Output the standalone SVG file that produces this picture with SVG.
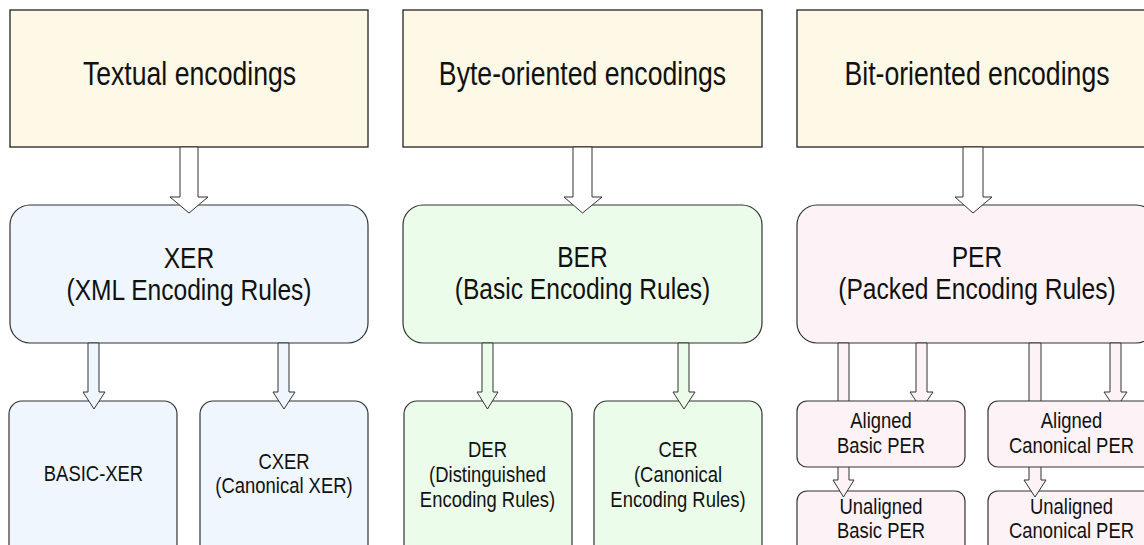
<svg xmlns="http://www.w3.org/2000/svg" width="1144" height="545" viewBox="0 0 1144 545">
<style>
  text { font-family: "Liberation Sans", Arial, sans-serif; fill: #111; text-anchor: middle; }
  .t1 { font-size: 32.5px; }
  .t2 { font-size: 30px; }
  .t3 { font-size: 22.5px; }
  .top { fill: #fef8e7; stroke: #222; stroke-width: 1.3; }
  .xer { fill: #eff6fe; stroke: #333; stroke-width: 1.2; }
  .ber { fill: #ebfcea; stroke: #333; stroke-width: 1.2; }
  .per { fill: #fdf3f6; stroke: #333; stroke-width: 1.2; }
  .arw { stroke: #333; stroke-width: 1; stroke-linejoin: miter; }
  .aw { fill: #ffffff; }
  .ax { fill: #eff6fe; }
  .ab { fill: #ebfcea; }
  .ap { fill: #fdf3f6; }
</style>
<rect width="1144" height="545" fill="#ffffff"/>

<g id="textual">
  <rect class="top" x="10" y="10" width="358" height="137"/>
  <text class="t1" transform="translate(189.5 0) scale(0.82 1)" x="0" y="85">Textual encodings</text>
</g>
<g id="byte">
  <rect class="top" x="403" y="10" width="359" height="137"/>
  <text class="t1" transform="translate(582.5 0) scale(0.82 1)" x="0" y="85">Byte-oriented encodings</text>
</g>
<g id="bit">
  <rect class="top" x="797" y="10" width="359" height="137"/>
  <text class="t1" transform="translate(977 0) scale(0.82 1)" x="0" y="85">Bit-oriented encodings</text>
</g>

<g id="xer">
  <rect class="xer" x="10" y="205" width="358" height="138" rx="20" ry="20"/>
  <text class="t2" transform="translate(189 0) scale(0.82 1)" x="0" y="268">XER</text>
  <text class="t2" transform="translate(189 0) scale(0.82 1)" x="0" y="300">(XML Encoding Rules)</text>
</g>
<g id="ber">
  <rect class="ber" x="403" y="205" width="359" height="138" rx="20" ry="20"/>
  <text class="t2" transform="translate(582.5 0) scale(0.82 1)" x="0" y="267">BER</text>
  <text class="t2" transform="translate(582.5 0) scale(0.82 1)" x="0" y="299">(Basic Encoding Rules)</text>
</g>
<g id="per">
  <rect class="per" x="797" y="205" width="359" height="138" rx="20" ry="20"/>
  <text class="t2" transform="translate(977 0) scale(0.82 1)" x="0" y="267">PER</text>
  <text class="t2" transform="translate(977 0) scale(0.82 1)" x="0" y="299">(Packed Encoding Rules)</text>
</g>

<g id="basic-xer">
  <rect class="xer" x="9" y="401" width="168" height="160" rx="13" ry="13"/>
  <text class="t3" transform="translate(93.5 0) scale(0.82 1)" x="0" y="481.5">BASIC-XER</text>
</g>
<g id="cxer">
  <rect class="xer" x="200" y="401" width="168" height="160" rx="13" ry="13"/>
  <text class="t3" transform="translate(284 0) scale(0.82 1)" x="0" y="469">CXER</text>
  <text class="t3" transform="translate(284 0) scale(0.82 1)" x="0" y="493">(Canonical XER)</text>
</g>
<g id="der">
  <rect class="ber" x="404" y="401" width="168" height="160" rx="13" ry="13"/>
  <text class="t3" transform="translate(487.5 0) scale(0.82 1)" x="0" y="457">DER</text>
  <text class="t3" transform="translate(487.5 0) scale(0.82 1)" x="0" y="482">(Distinguished</text>
  <text class="t3" transform="translate(487.5 0) scale(0.82 1)" x="0" y="507">Encoding Rules)</text>
</g>
<g id="cer">
  <rect class="ber" x="594" y="401" width="168" height="160" rx="13" ry="13"/>
  <text class="t3" transform="translate(678 0) scale(0.82 1)" x="0" y="457">CER</text>
  <text class="t3" transform="translate(678 0) scale(0.82 1)" x="0" y="482">(Canonical</text>
  <text class="t3" transform="translate(678 0) scale(0.82 1)" x="0" y="507">Encoding Rules)</text>
</g>
<g id="unaligned-basic-per">
  <rect class="per" x="797" y="491" width="168" height="70" rx="10" ry="10"/>
  <text class="t3" transform="translate(881 0) scale(0.82 1)" x="0" y="514">Unaligned</text>
  <text class="t3" transform="translate(881 0) scale(0.82 1)" x="0" y="538">Basic PER</text>
</g>
<g id="unaligned-canonical-per">
  <rect class="per" x="988" y="491" width="168" height="70" rx="10" ry="10"/>
  <text class="t3" transform="translate(1071.5 0) scale(0.82 1)" x="0" y="514">Unaligned</text>
  <text class="t3" transform="translate(1071.5 0) scale(0.82 1)" x="0" y="538">Canonical PER</text>
</g>

<g id="connectors" class="arw">
  <polygon class="aw" points="180,147 198,147 198,197 208,197 189,213 170,197 180,197"/>
  <polygon class="aw" points="573,147 592,147 592,197 602,197 582.5,213 564,197 573,197"/>
  <polygon class="aw" points="963,147 983,147 983,197 992,197 973,213 955,197 963,197"/>

  <polygon class="ax" points="88,343 99,343 99,392 105,392 94,409 83,392 88,392"/>
  <polygon class="ax" points="278,343 289,343 289,392 295,392 284,409 273,392 278,392"/>
  <polygon class="ab" points="482,343 493,343 493,392 498,392 487.5,409 477,392 482,392"/>
  <polygon class="ab" points="678,343 689,343 689,392 695,392 684,409 673,392 678,392"/>

  <polygon class="ap" points="838,343 849,343 849,480 854,480 843.5,497 833,480 838,480"/>
  <polygon class="ap" points="916,343 927,343 927,392 933,392 921.5,409 910,392 916,392"/>
  <polygon class="ap" points="1029,343 1041,343 1041,480 1046,480 1035,497 1024,480 1029,480"/>
  <polygon class="ap" points="1110,343 1121,343 1121,392 1127,392 1115.5,409 1104,392 1110,392"/>
</g>

<g id="aligned-basic-per">
  <rect class="per" x="797" y="401" width="168" height="66" rx="10" ry="10"/>
  <text class="t3" transform="translate(881 0) scale(0.82 1)" x="0" y="428">Aligned</text>
  <text class="t3" transform="translate(881 0) scale(0.82 1)" x="0" y="453">Basic PER</text>
</g>
<g id="aligned-canonical-per">
  <rect class="per" x="988" y="401" width="168" height="66" rx="10" ry="10"/>
  <text class="t3" transform="translate(1071.5 0) scale(0.82 1)" x="0" y="428">Aligned</text>
  <text class="t3" transform="translate(1071.5 0) scale(0.82 1)" x="0" y="453">Canonical PER</text>
</g>
</svg>
